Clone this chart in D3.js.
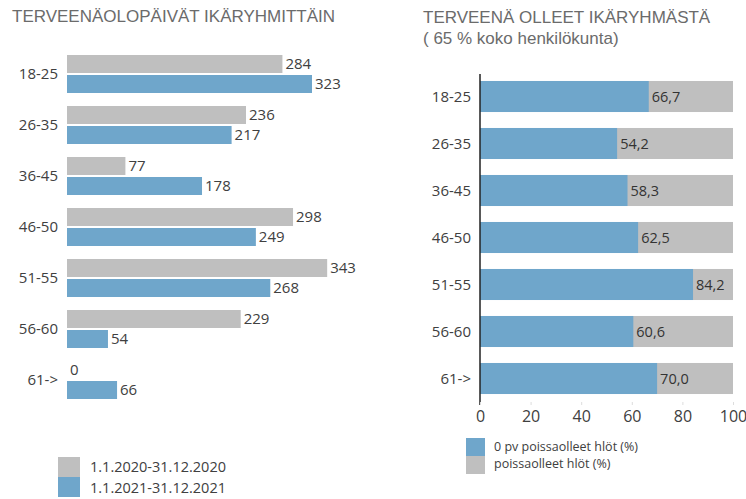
<!DOCTYPE html>
<html>
<head>
<meta charset="utf-8">
<script src="https://cdn.jsdelivr.net/npm/d3@7"></script>
<style>
  body { margin: 0; background: #fff; }
  svg text { font-family: "Open Sans", "Noto Sans", sans-serif; }
</style>
</head>
<body>
<div id="chart"></div>
<script>
var width = 746;
var height = 499;

// data
var ageGroups = ["18-25", "26-35", "36-45", "46-50", "51-55", "56-60", "61->"];
var days2020 = [284, 236, 77, 298, 343, 229, 0];
var days2021 = [323, 217, 178, 249, 268, 54, 66];
var healthyPct = [66.7, 54.2, 58.3, 62.5, 84.2, 60.6, 70.0];
var pctTicks = [0, 20, 40, 60, 80, 100];
var periodLabels = ["1.1.2020-31.12.2020", "1.1.2021-31.12.2021"];
var pctLabels = ["0 pv poissaolleet hlöt (%)", "poissaolleet hlöt (%)"];

var blue = "#6fa6cb";
var grey = "#bfbfbf";
var textCol = "#404040";
var titleCol = "#6b6b6b";

var svg = d3.select("#chart")
    .append("svg")
    .attr("width", width)
    .attr("height", height);

// ---------- left chart ----------
svg.append("text")
    .attr("x", 12).attr("y", 22)
    .attr("font-size", 17)
    .attr("fill", titleCol)
    .style("font-family", "'Liberation Sans', Arial, sans-serif")
    .text("TERVEENÄOLOPÄIVÄT IKÄRYHMITTÄIN");

var xL = d3.scaleLinear().domain([0, 323]).range([67, 312]);
var yL = d3.scaleBand().domain(ageGroups).range([48.5, 405.5]);

var left = svg.append("g");

ageGroups.forEach(function(g, i) {
  var c = yL(g) + yL.bandwidth() / 2;
  left.append("text")
      .attr("x", 58).attr("y", c).attr("dy", "0.35em")
      .attr("text-anchor", "end")
      .attr("font-size", 15)
      .attr("fill", textCol)
      .text(g);

  var rows = [{v: days2020[i], col: grey, y: c - 19}, {v: days2021[i], col: blue, y: c + 1}];
  rows.forEach(function(r) {
    if (r.v > 0) {
      left.append("rect")
          .attr("x", xL(0)).attr("y", r.y)
          .attr("width", xL(r.v) - xL(0)).attr("height", 18)
          .attr("fill", r.col);
    }
    left.append("text")
        .attr("x", xL(r.v) + 3).attr("y", r.y + 9).attr("dy", "0.35em")
        .attr("font-size", 15)
        .attr("fill", textCol)
        .text(r.v);
  });
});

// legend left
var legL = svg.append("g");
[grey, blue].forEach(function(col, i) {
  legL.append("rect")
      .attr("x", 58).attr("y", 457 + i * 20)
      .attr("width", 22).attr("height", 20)
      .attr("fill", col);
  legL.append("text")
      .attr("x", 90).attr("y", 467 + i * 21).attr("dy", "0.35em")
      .attr("font-size", 14.5)
      .attr("fill", textCol)
      .text(periodLabels[i]);
});

// ---------- right chart ----------
var tR = svg.append("text")
    .attr("x", 423).attr("y", 23)
    .attr("font-size", 17)
    .attr("fill", titleCol)
    .style("font-family", "'Liberation Sans', Arial, sans-serif");
tR.append("tspan").attr("x", 423).text("TERVEENÄ OLLEET IKÄRYHMÄSTÄ");
tR.append("tspan").attr("x", 423).attr("dy", 21).text("( 65 % koko henkilökunta)");

var xR = d3.scaleLinear().domain([0, 100]).range([480, 733]);
var yR = d3.scaleBand().domain(ageGroups).range([73, 402]).paddingInner(0.34).paddingOuter(0.17);

var right = svg.append("g");

right.selectAll(".bg")
    .data(ageGroups)
    .enter().append("rect")
      .attr("x", xR(0))
      .attr("y", function(d) { return yR(d); })
      .attr("width", xR(100) - xR(0))
      .attr("height", yR.bandwidth())
      .attr("fill", grey);

right.selectAll(".fg")
    .data(healthyPct)
    .enter().append("rect")
      .attr("x", xR(0))
      .attr("y", function(d, i) { return yR(ageGroups[i]); })
      .attr("width", function(d) { return xR(d) - xR(0); })
      .attr("height", yR.bandwidth())
      .attr("fill", blue);

right.selectAll(".val")
    .data(healthyPct)
    .enter().append("text")
      .attr("x", function(d) { return xR(d) + 3; })
      .attr("y", function(d, i) { return yR(ageGroups[i]) + yR.bandwidth() / 2; })
      .attr("dy", "0.35em")
      .attr("font-size", 14.5)
      .attr("fill", "#333")
      .text(function(d) { return d.toFixed(1).replace(".", ","); });

right.selectAll(".cat")
    .data(ageGroups)
    .enter().append("text")
      .attr("x", 471)
      .attr("y", function(d) { return yR(d) + yR.bandwidth() / 2; })
      .attr("dy", "0.35em")
      .attr("text-anchor", "end")
      .attr("font-size", 15)
      .attr("fill", textCol)
      .text(function(d) { return d; });

// vertical axis line
right.append("line")
    .attr("x1", xR(0)).attr("x2", xR(0))
    .attr("y1", 74).attr("y2", 405)
    .attr("stroke", "#222").attr("stroke-width", 1.5);

// x axis
var xAxis = svg.append("g")
    .attr("transform", "translate(0,402)")
    .call(d3.axisBottom(xR).tickValues(pctTicks).tickSize(3).tickPadding(6));
xAxis.select(".domain").remove();
xAxis.selectAll(".tick line").attr("stroke", "#ddd");
xAxis.selectAll(".tick text")
    .attr("font-size", 16)
    .attr("fill", textCol)
    .style("font-family", "'Open Sans', 'Noto Sans', sans-serif");

// legend right
var legR = svg.append("g");
[blue, grey].forEach(function(col, i) {
  legR.append("rect")
      .attr("x", 466).attr("y", 438 + i * 18)
      .attr("width", 19).attr("height", 18)
      .attr("fill", col);
  legR.append("text")
      .attr("x", 494).attr("y", 447 + i * 17).attr("dy", "0.35em")
      .attr("font-size", 12.5)
      .attr("fill", textCol)
      .text(pctLabels[i]);
});
</script>
</body>
</html>
